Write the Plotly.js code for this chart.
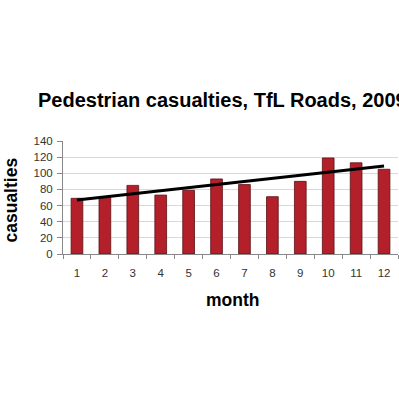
<!DOCTYPE html>
<html>
<head>
<meta charset="utf-8">
<script src="https://cdn.plot.ly/plotly-3.0.1.min.js"></script>
<style>html,body{margin:0;padding:0;background:#fff;}#chart{width:399px;height:399px;}</style>
</head>
<body>
<div id="chart"></div>
<script>
const months = ["1","2","3","4","5","6","7","8","9","10","11","12"];
const casualties = [69, 70, 85, 73, 79, 93, 86, 71, 90, 119, 113, 105];
const trendMonths = ["1", "12"];
const trendValues = [67, 109];
const yTicks = [0, 20, 40, 60, 80, 100, 120, 140];

const traces = [
  {
    type: "bar",
    x: months,
    y: casualties,
    width: 0.42,
    marker: {color: "#B3202A", line: {color: "#5a1015", width: 0.8}},
    hoverinfo: "x+y"
  },
  {
    type: "scatter",
    mode: "lines",
    x: trendMonths,
    y: trendValues,
    line: {color: "#000000", width: 3},
    hoverinfo: "skip"
  }
];

const layout = {
  width: 399, height: 399,
  margin: {l: 63, r: 1, t: 141, b: 145},
  paper_bgcolor: "#ffffff",
  plot_bgcolor: "#ffffff",
  showlegend: false,
  font: {family: "Liberation Sans, Arial, sans-serif", color: "#333333", size: 11.5},
  title: {
    text: "<b>Pedestrian casualties, TfL Roads, 2009</b>",
    font: {family: "Liberation Sans, Arial, sans-serif", size: 20, color: "#000000"},
    xref: "container", yref: "container",
    x: 38/399, xanchor: "left",
    y: 1 - 100/399, yanchor: "middle"
  },
  xaxis: {
    type: "category",
    categoryorder: "array",
    categoryarray: months,
    tickson: "boundaries",
    ticks: "outside",
    ticklen: 4,
    tickcolor: "#888888",
    ticklabelstandoff: 8,
    showline: true,
    linecolor: "#888888",
    linewidth: 1,
    showgrid: false,
    zeroline: false,
    tickfont: {size: 11.5, color: "#333333"},
    fixedrange: true
  },
  yaxis: {
    range: [0, 140],
    tickvals: yTicks,
    ticks: "outside",
    ticklen: 5,
    tickcolor: "#888888",
    ticklabelstandoff: 2,
    showline: true,
    linecolor: "#888888",
    linewidth: 1,
    showgrid: true,
    gridcolor: "#d9d9d9",
    gridwidth: 1,
    zeroline: false,
    tickfont: {size: 11.5, color: "#333333"},
    fixedrange: true
  },
  annotations: [
    {
      text: "<b>casualties</b>",
      xref: "paper", yref: "paper",
      x: 0, y: 0.5, xshift: -53, yshift: -3,
      textangle: -90, showarrow: false,
      xanchor: "center", yanchor: "middle",
      font: {family: "Liberation Sans, Arial, sans-serif", size: 17.5, color: "#000000"}
    },
    {
      text: "<b>month</b>",
      xref: "paper", yref: "paper",
      x: 0.5, y: 0, xshift: 2, yshift: -46,
      showarrow: false,
      xanchor: "center", yanchor: "middle",
      font: {family: "Liberation Sans, Arial, sans-serif", size: 17.5, color: "#000000"}
    }
  ]
};

Plotly.newPlot("chart", traces, layout, {displayModeBar: false, staticPlot: true});
</script>
</body>
</html>
